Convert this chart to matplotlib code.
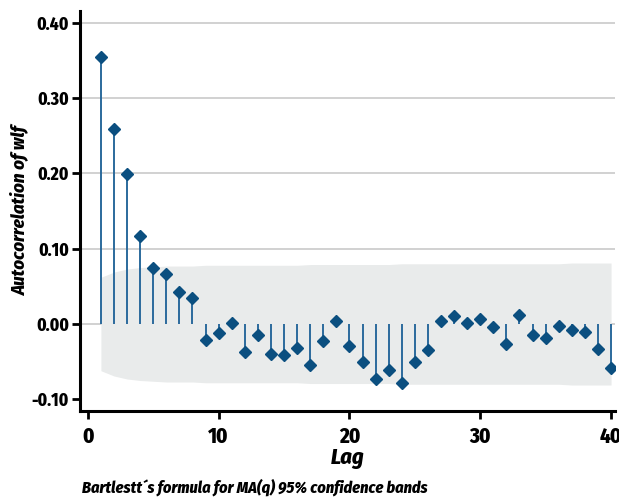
import numpy as np
import matplotlib
matplotlib.use("Agg")
import matplotlib.pyplot as plt

# autocorrelations, lags 1..40
lags = list(range(1, 41))
acf_values = [
    0.355, 0.259, 0.199, 0.117, 0.074, 0.066, 0.042, 0.034, -0.021, -0.012,
    0.001, -0.037, -0.014, -0.040, -0.041, -0.032, -0.054, -0.023, 0.004, -0.029,
    -0.051, -0.073, -0.061, -0.078, -0.051, -0.034, 0.004, 0.011, 0.001, 0.007,
    -0.004, -0.027, 0.012, -0.015, -0.019, -0.002, -0.008, -0.010, -0.033, -0.058,
]
# half-width of the confidence band at each lag
band_values = [
    0.062, 0.069, 0.073, 0.075, 0.076, 0.077, 0.077, 0.077, 0.078, 0.078,
    0.078, 0.078, 0.078, 0.078, 0.078, 0.078, 0.079, 0.079, 0.079, 0.079,
    0.079, 0.079, 0.079, 0.080, 0.080, 0.080, 0.080, 0.080, 0.080, 0.080,
    0.080, 0.080, 0.080, 0.080, 0.080, 0.080, 0.081, 0.081, 0.081, 0.081,
]
yticks = [-0.10, 0.00, 0.10, 0.20, 0.30, 0.40]
xticks = [0, 10, 20, 30, 40]

plt.rcParams["font.family"] = ["Fira Sans Condensed", "DejaVu Sans"]

fig = plt.figure(figsize=(6.19, 5.0), dpi=100)
ax = fig.add_axes([0.1292, 0.178, 0.8643, 0.800])

band = np.array(band_values)
ax.fill_between(lags, -band, band, color="#e9ebeb", linewidth=0, zorder=1)

for y in yticks[1:]:
    ax.axhline(y, color="#c9c9c9", linewidth=1.2, zorder=0.5)

ax.vlines(lags, 0, acf_values, color="#2b6a9c", linewidth=1.4, zorder=2)
ax.plot(lags, acf_values, linestyle="none", marker="D", markersize=6.3,
        color="#0b4f80", zorder=3)

ax.set_xlim(-0.6, 40.3)
ax.set_ylim(-0.1155, 0.4157)
ax.set_xticks(xticks)
ax.set_yticks(yticks)
ax.set_yticklabels([f"{v:.2f}" for v in yticks])
for side in ("top", "right"):
    ax.spines[side].set_visible(False)
for side in ("left", "bottom"):
    ax.spines[side].set_linewidth(2.2)
ax.tick_params(axis="both", direction="out", length=6, width=2)
ax.tick_params(axis="x", pad=5)
ax.tick_params(axis="y", pad=2)
for lab in ax.get_xticklabels():
    lab.set_fontsize(15)
    lab.set_fontweight(800)
for lab in ax.get_yticklabels():
    lab.set_fontsize(12.5)
    lab.set_fontweight(800)

ax.set_xlabel("Lag", fontsize=16, fontweight=800, fontstyle="italic", labelpad=0)
ax.set_ylabel("Autocorrelation of wlf", fontsize=13.5, fontweight=800,
              fontstyle="italic", labelpad=2)

fig.text(0.132, 0.014, "Bartlestt\u00b4s formula for MA(q) 95% confidence bands",
         fontsize=11.7, fontweight=800, fontstyle="italic", ha="left", va="baseline")

fig.savefig("out.png", dpi=100)
